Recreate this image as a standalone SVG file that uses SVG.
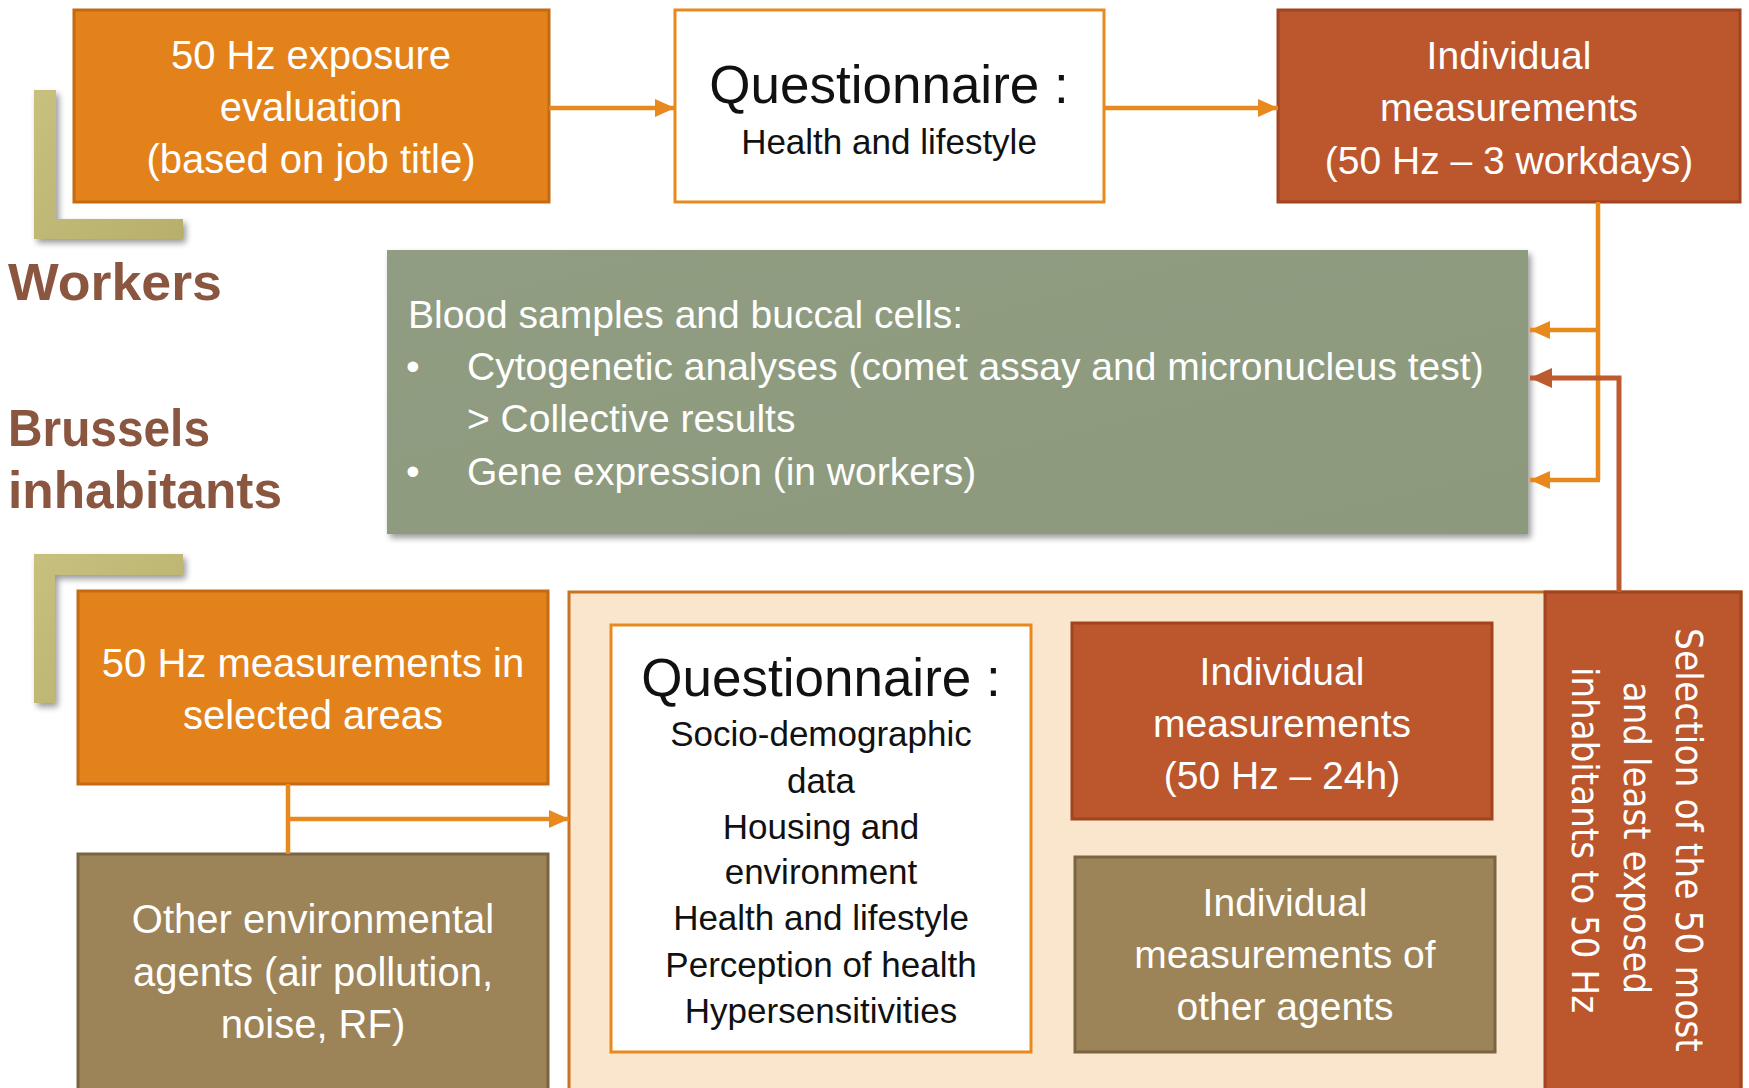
<svg xmlns="http://www.w3.org/2000/svg" width="1749" height="1088" viewBox="0 0 1749 1088">
  <defs>
    <style>
      .t { font-family: "Liberation Sans", Arial, sans-serif; text-anchor: middle; }
      .w { fill: #ffffff; }
      .k { fill: #111111; }
      .orange { fill: #E3821A; stroke: #C46A12; stroke-width: 3; }
      .rust { fill: #BC562C; stroke: #A0451F; stroke-width: 3; }
      .olive { fill: #9C8358; stroke: #7A6542; stroke-width: 3; }
      .white { fill: #ffffff; stroke: #E8891E; stroke-width: 3; }
      .label { font-family: "Liberation Sans", Arial, sans-serif; font-weight: bold; fill: #8B5640; font-size: 52px; }
      .c-or { fill: none; stroke: #E8891E; stroke-width: 4.5; }
      .c-rd { fill: none; stroke: #BD5A2E; stroke-width: 5; }
    </style>
    <marker id="ah-or" markerUnits="userSpaceOnUse" markerWidth="22" markerHeight="22" viewBox="0 0 22 22" refX="20" refY="11" orient="auto">
      <path d="M0,2 L20,11 L0,20 Z" fill="#E8891E"/>
    </marker>
    <marker id="ah-rd" markerUnits="userSpaceOnUse" markerWidth="24" markerHeight="24" viewBox="0 0 24 24" refX="22" refY="12" orient="auto">
      <path d="M0,2 L22,12 L0,22 Z" fill="#BD5A2E"/>
    </marker>
    <linearGradient id="g-bracket" x1="0" y1="0" x2="1" y2="1">
      <stop offset="0" stop-color="#C7C07E"/>
      <stop offset="1" stop-color="#B8AF6C"/>
    </linearGradient>
    <linearGradient id="g-green" x1="0" y1="0" x2="1" y2="1">
      <stop offset="0" stop-color="#909D82"/>
      <stop offset="1" stop-color="#8C997C"/>
    </linearGradient>
    <filter id="shadow" x="-5%" y="-5%" width="115%" height="120%">
      <feGaussianBlur in="SourceAlpha" stdDeviation="3"/>
      <feOffset dx="3" dy="4" result="b"/>
      <feComponentTransfer><feFuncA type="linear" slope="0.4"/></feComponentTransfer>
      <feMerge><feMergeNode/><feMergeNode in="SourceGraphic"/></feMerge>
    </filter>
  </defs>

  <rect width="1749" height="1088" fill="#ffffff"/>

  <!-- Group brackets and labels -->
  <g id="workers-label">
    <polygon points="34,90 56,90 56,219 183,219 183,239 34,239" fill="url(#g-bracket)" filter="url(#shadow)"/>
    <text class="label" x="8" y="300" textLength="214" lengthAdjust="spacingAndGlyphs">Workers</text>
  </g>
  <g id="brussels-label">
    <text class="label" x="8" y="446" textLength="202" lengthAdjust="spacingAndGlyphs">Brussels</text>
    <text class="label" x="8" y="508" textLength="274" lengthAdjust="spacingAndGlyphs">inhabitants</text>
    <polygon points="34,554 183,554 183,575 55,575 55,703 34,703" fill="url(#g-bracket)" filter="url(#shadow)"/>
  </g>

  <!-- Workers row -->
  <g id="exposure-eval">
    <rect class="orange" x="74" y="10" width="475" height="192"/>
    <text class="t w" font-size="40"><tspan x="311" y="69">50 Hz exposure</tspan><tspan x="311" y="121">evaluation</tspan><tspan x="311" y="173">(based on job title)</tspan></text>
  </g>
  <g id="questionnaire-workers">
    <rect class="white" x="675" y="10" width="429" height="192"/>
    <text class="t k" font-size="53" x="889" y="103">Questionnaire :</text>
    <text class="t k" font-size="35" x="889" y="154">Health and lifestyle</text>
  </g>
  <g id="measure-workdays">
    <rect class="rust" x="1278" y="10" width="462" height="192"/>
    <text class="t w" font-size="39"><tspan x="1509" y="69">Individual</tspan><tspan x="1509" y="121">measurements</tspan><tspan x="1509" y="174">(50 Hz – 3 workdays)</tspan></text>
  </g>

  <!-- Shared lab analyses -->
  <g id="lab-analyses">
    <rect x="387" y="250" width="1141" height="284" fill="url(#g-green)" filter="url(#shadow)"/>
    <g font-family="Liberation Sans, Arial, sans-serif" font-size="39" fill="#ffffff">
      <text x="408" y="328">Blood samples and buccal cells:</text>
      <text x="406" y="380">•</text>
      <text x="467" y="380">Cytogenetic analyses (comet assay and micronucleus test)</text>
      <text x="467" y="432">&gt; Collective results</text>
      <text x="406" y="485">•</text>
      <text x="467" y="485">Gene expression (in workers)</text>
    </g>
  </g>

  <!-- Inhabitants row -->
  <g id="area-measurements">
    <rect class="orange" x="78" y="591" width="470" height="193"/>
    <text class="t w" font-size="40"><tspan x="313" y="677">50 Hz measurements in</tspan><tspan x="313" y="729">selected areas</tspan></text>
  </g>
  <g id="other-agents">
    <rect class="olive" x="78" y="854" width="470" height="240"/>
    <text class="t w" font-size="40"><tspan x="313" y="933">Other environmental</tspan><tspan x="313" y="986">agents (air pollution,</tspan><tspan x="313" y="1038">noise, RF)</tspan></text>
  </g>

  <g id="inhabitant-study">
    <rect x="569" y="592" width="1172" height="500" fill="#FAE5CD" stroke="#C8731E" stroke-width="3"/>
  </g>
  <g id="questionnaire-inhabitants">
    <rect class="white" x="611" y="625" width="420" height="427"/>
    <text class="t k" font-size="53" x="821" y="696">Questionnaire :</text>
    <text class="t k" font-size="35"><tspan x="821" y="746">Socio-demographic</tspan><tspan x="821" y="793">data</tspan><tspan x="821" y="839">Housing and</tspan><tspan x="821" y="884">environment</tspan><tspan x="821" y="930">Health and lifestyle</tspan><tspan x="821" y="977">Perception of health</tspan><tspan x="821" y="1023">Hypersensitivities</tspan></text>
  </g>
  <g id="measure-24h">
    <rect class="rust" x="1072" y="623" width="420" height="196"/>
    <text class="t w" font-size="39"><tspan x="1282" y="685">Individual</tspan><tspan x="1282" y="737">measurements</tspan><tspan x="1282" y="789">(50 Hz – 24h)</tspan></text>
  </g>
  <g id="measure-other">
    <rect class="olive" x="1075" y="857" width="420" height="195"/>
    <text class="t w" font-size="39"><tspan x="1285" y="916">Individual</tspan><tspan x="1285" y="968">measurements of</tspan><tspan x="1285" y="1020">other agents</tspan></text>
  </g>
  <g id="selection">
    <rect class="rust" x="1545" y="592" width="196" height="500"/>
    <!-- vertical caption, read top to bottom, slightly condensed -->
    <g font-family="DejaVu Sans, Verdana, sans-serif" font-size="38" fill="#ffffff" text-anchor="middle">
      <text transform="translate(1676,840) rotate(90) scale(0.91,1)">Selection of the 50 most</text>
      <text transform="translate(1624,838) rotate(90) scale(0.9,1)">and least exposed</text>
      <text transform="translate(1572,840) rotate(90) scale(0.9,1)">inhabitants to 50 Hz</text>
    </g>
  </g>

  <!-- Connectors -->
  <g id="connectors">
    <path class="c-or" d="M549,108 L675,108" marker-end="url(#ah-or)"/>
    <path class="c-or" d="M1104,108 L1278,108" marker-end="url(#ah-or)"/>
    <path class="c-or" d="M1598,202 L1598,480"/>
    <path class="c-or" d="M1598,330 L1530,330" marker-end="url(#ah-or)"/>
    <path class="c-or" d="M1600,480 L1530,480" marker-end="url(#ah-or)"/>
    <path class="c-rd" d="M1619,592 L1619,378 L1530,378" marker-end="url(#ah-rd)"/>
    <path class="c-or" d="M288,784 L288,854"/>
    <path class="c-or" d="M288,819 L569,819" marker-end="url(#ah-or)"/>
  </g>
</svg>
